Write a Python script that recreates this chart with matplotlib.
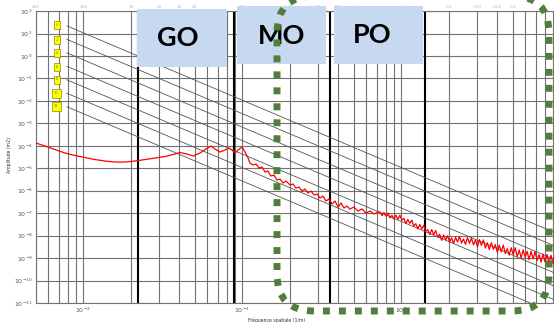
import numpy as np
import matplotlib
matplotlib.use("Agg")
import matplotlib.pyplot as plt
from matplotlib.patches import Rectangle, FancyBboxPatch
from matplotlib.transforms import Affine2D, blended_transform_factory
from matplotlib.ticker import LogLocator, NullLocator, LogFormatterSciNotation

# ---------------- data ----------------
# measured spectrum (log10 of spatial frequency in 1/m, log10 of amplitude in m^2)
spec_log_f = [
    -2.299, -2.242, -2.179, -2.116, -2.053, -1.991, -1.928, -1.865, -1.802, -1.739,
    -1.676, -1.613, -1.550, -1.487, -1.425, -1.393, -1.349, -1.311, -1.267, -1.230,
    -1.198, -1.173, -1.142, -1.110, -1.085, -1.066, -1.047, -1.028, -1.003, -0.984,
    -0.965, -0.953, -0.934, -0.915, -0.896, -0.877, -0.858, -0.840, -0.821, -0.802,
    -0.783, -0.764, -0.745, -0.726, -0.701, -0.682, -0.664, -0.645, -0.626, -0.607,
    -0.588, -0.569, -0.550, -0.531, -0.513, -0.494, -0.475, -0.456, -0.437, -0.418,
    -0.399, -0.380, -0.362, -0.343, -0.324, -0.299, -0.274, -0.248, -0.223, -0.198,
    -0.173, -0.148,
    -0.135, -0.1225, -0.110, -0.0975, -0.085, -0.0725, -0.060, -0.0475,
    -0.035, -0.0225, -0.010, 0.0025, 0.015, 0.0275, 0.040, 0.0525,
    0.065, 0.0775, 0.090, 0.1025, 0.115, 0.1275, 0.140, 0.1525,
    0.165, 0.1775, 0.190, 0.2025, 0.215, 0.2275, 0.240, 0.2525,
    0.265, 0.2775, 0.290, 0.3025, 0.315, 0.3275, 0.340, 0.3525,
    0.365, 0.3775, 0.390, 0.4025, 0.415, 0.4275, 0.440, 0.4525,
    0.465, 0.4775, 0.490, 0.5025, 0.515, 0.5275, 0.540, 0.5525,
    0.565, 0.5775, 0.590, 0.6025, 0.615, 0.6275, 0.640, 0.6525,
    0.665, 0.6775, 0.690, 0.7025, 0.715, 0.7275, 0.740, 0.7525,
    0.765, 0.7775, 0.790, 0.8025, 0.815, 0.8275, 0.840, 0.8525,
    0.865, 0.8775, 0.890, 0.9025, 0.915, 0.9275, 0.940, 0.9525, 0.965,
]
spec_log_amp = [
    -3.875, -4.009, -4.165, -4.321, -4.432, -4.521, -4.610, -4.677, -4.722, -4.722,
    -4.677, -4.610, -4.543, -4.477, -4.365, -4.298, -4.365, -4.454, -4.321, -4.143,
    -4.009, -4.143, -4.276, -4.187, -4.098, -4.187, -4.321, -4.187, -4.053, -4.276,
    -4.543, -4.766, -4.855, -4.811, -4.989, -4.944, -5.167, -5.122, -5.345, -5.301,
    -5.523, -5.479, -5.657, -5.568, -5.746, -5.702, -5.880, -5.835, -6.013, -5.924,
    -6.102, -6.013, -6.192, -6.147, -6.325, -6.236, -6.459, -6.370, -6.592, -6.459,
    -6.726, -6.548, -6.771, -6.682, -6.815, -6.726, -6.904, -6.815, -6.993, -6.904,
    -7.038, -6.949,
    -6.95, -7.11, -6.97, -7.13, -6.99, -7.21, -7.10, -7.26,
    -7.09, -7.27, -7.09, -7.31, -7.23, -7.46, -7.28, -7.45,
    -7.31, -7.58, -7.47, -7.70, -7.50, -7.71, -7.54, -7.81,
    -7.73, -7.95, -7.73, -7.96, -7.77, -8.07, -7.94, -8.21,
    -7.97, -8.19, -8.01, -8.29, -8.10, -8.35, -8.08, -8.28,
    -8.03, -8.33, -8.15, -8.39, -8.09, -8.34, -8.11, -8.41,
    -8.20, -8.50, -8.18, -8.43, -8.19, -8.55, -8.32, -8.62,
    -8.31, -8.61, -8.40, -8.74, -8.42, -8.72, -8.42, -8.79,
    -8.58, -8.87, -8.54, -8.84, -8.54, -8.93, -8.64, -9.00,
    -8.63, -8.96, -8.70, -9.07, -8.69, -9.04, -8.70, -9.11,
    -8.84, -9.18, -8.82, -9.17, -8.84, -9.22, -8.87, -9.24, -8.81,
]

# reference class lines: amplitude at reference frequency, slope -3
class_labels = ["0", "2", "4", "6", "8", "10", "12"]
class_ref_f = 10 ** -2.104
class_ref_log_amp = [1.34, 0.74, 0.14, -0.46, -1.06, -1.66, -2.26]
class_slope = -3.0

# wavelength zone boundaries (spatial frequency, 1/m)
zone_edges_f = [0.0221, 0.0884, 0.354, 1.414]
zone_names = ["GO", "MO", "PO"]

# top axis: wavelength labels (m)
wl_tick_f = [5e-3, 1e-2, 2e-2, 3e-2, 4e-2, 5e-2, 1e-1, 2e-1, 3e-1, 4e-1, 5e-1, 1.0, 2.0, 3.0, 4.0, 5.0]
wl_tick_labels = ["200", "100", "50", "33", "25", "20", "10", "5", "3.3", "2.5", "2", "1", "0.5", "0.33", "0.25", "0.2"]

x_range = (5e-3, 9.1)
y_range = (1e-11, 1e2)

# ---------------- figure ----------------
W, H = 554, 322
fig = plt.figure(figsize=(W / 100, H / 100), dpi=100)
fig.patch.set_facecolor("white")
px = Affine2D().scale(1 / W, -1 / H).translate(0, 1) + fig.transFigure

ax = fig.add_axes([35.6 / W, 1 - 303 / H, 1 - 35.6 / W, (303 - 11.1) / H])
ax.set_xscale("log")
ax.set_yscale("log")
ax.set_xlim(*x_range)
ax.set_ylim(*y_range)

ax.xaxis.set_major_locator(LogLocator(base=10, numticks=20))
ax.xaxis.set_minor_locator(LogLocator(base=10, subs=range(2, 10), numticks=20))
ax.yaxis.set_major_locator(LogLocator(base=10, numticks=30))
ax.yaxis.set_minor_locator(NullLocator())
ax.xaxis.set_major_formatter(LogFormatterSciNotation())
ax.yaxis.set_major_formatter(LogFormatterSciNotation())

grid_col = "#727272"
ax.grid(True, which="major", axis="both", color=grid_col, lw=0.8, zorder=0)
ax.grid(True, which="minor", axis="x", color=grid_col, lw=0.8, zorder=0)
ax.set_axisbelow(True)
for s in ax.spines.values():
    s.set_color(grid_col)
    s.set_linewidth(0.8)
ax.tick_params(which="both", length=0, labelsize=4.5, labelcolor="#555555", pad=2)
ax.tick_params(which="minor", labelbottom=False, labelleft=False)

# zone boundaries
for fz in zone_edges_f:
    ax.axvline(fz, color="black", lw=1.5, zorder=1)

# class lines
f_start = class_ref_f
f_end = 20.0
for la in class_ref_log_amp:
    a0 = 10 ** la
    a1 = a0 * (f_end / f_start) ** class_slope
    ax.plot([f_start, f_end], [a0, a1], color="#555555", lw=0.6, zorder=2)

# spectrum
ax.plot(10 ** np.array(spec_log_f), 10 ** np.array(spec_log_amp), color="#ff0000", lw=0.9, zorder=3)

ax.set_xlabel("Fréquence spatiale (1/m)", fontsize=3.3, color="#333333", labelpad=4)
ax.xaxis.set_label_coords(0.465, -0.05)
fig.text(10 / W, 1 - 155 / H, "Amplitude (m2)", rotation=90, fontsize=3.3,
         color="#333333", ha="center", va="center")

# top wavelength labels
btr = blended_transform_factory(ax.transData, fig.transFigure)
for f, lab in zip(wl_tick_f, wl_tick_labels):
    fig.text(f, 1 - 7 / H, lab, transform=btr, fontsize=3, color="#b5b5b5",
             ha="center", va="center")

# yellow class markers
ycent = [25, 40, 53, 67, 79.5, 93, 106]
for lab, yc in zip(class_labels, ycent):
    w = 6 if len(lab) == 1 else 9
    h = 8 if len(lab) == 1 else 9
    xc = 57 if len(lab) == 1 else 56
    fig.add_artist(Rectangle((xc - w / 2, yc - h / 2), w, h, transform=px,
                             facecolor="#ffff00", edgecolor="#8a8a00", lw=0.5, zorder=5))
    fig.text(xc, yc, lab, transform=px, fontsize=2.5, color="#777700",
             ha="center", va="center", zorder=6)

# zone label boxes
boxes = [(137, 9, 227, 67, 178, 38), (237, 6, 326, 64, 282, 36.5), (334, 6, 423, 64, 372, 35)]
for name, (x0, y0, x1, y1, tx, ty) in zip(zone_names, boxes):
    fig.add_artist(Rectangle((x0, y0), x1 - x0, y1 - y0, transform=px,
                             facecolor="#c6d9f0", edgecolor="none", zorder=7))
    fig.text(tx, ty, name, transform=px, fontsize=19.5, fontweight="bold",
             family=["Lato", "DejaVu Sans"], color="black", ha="center", va="center", zorder=8)

# green dashed rounded frame
frame = FancyBboxPatch((277, -4), 272, 315, boxstyle="round,pad=0,rounding_size=37",
                       transform=px, fill=False, edgecolor="#4f7f3a", lw=5,
                       linestyle=(0, (1, 1.3)), zorder=10)
frame.set_capstyle("butt")
fig.add_artist(frame)

fig.savefig("out.png", dpi=100, facecolor="white")
